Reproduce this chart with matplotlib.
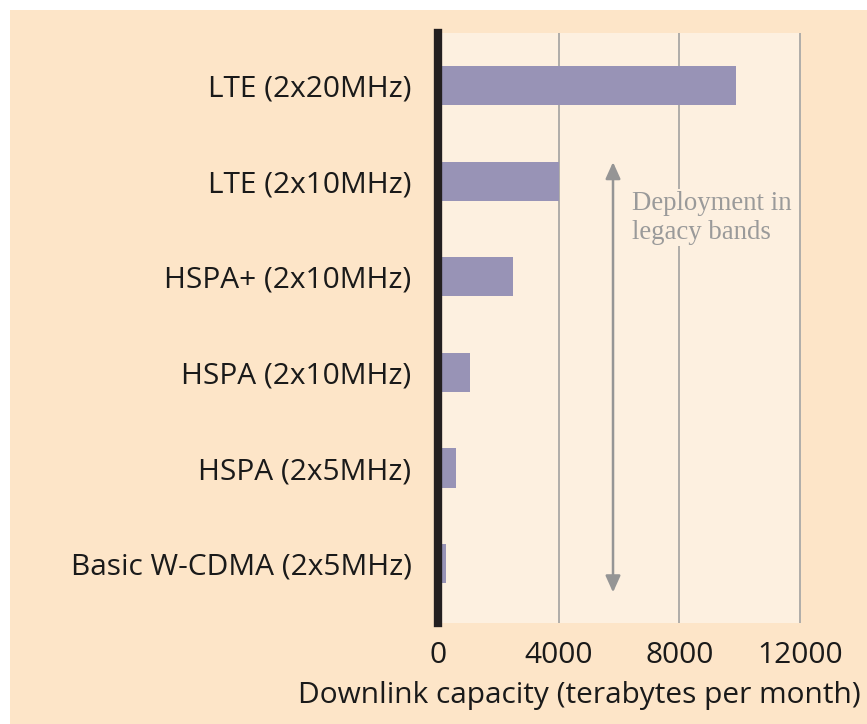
import matplotlib
matplotlib.use("Agg")
import matplotlib.pyplot as plt
from matplotlib.patches import Rectangle

# data (bottom to top)
labels = ["Basic W-CDMA (2x5MHz)", "HSPA (2x5MHz)", "HSPA (2x10MHz)",
          "HSPA+ (2x10MHz)", "LTE (2x10MHz)", "LTE (2x20MHz)"]
capacity = [250, 580, 1050, 2500, 4000, 9870]
xticks = [0, 4000, 8000, 12000]

outer_bg = "#fde5c8"
inner_bg = "#fdf0e0"
bar_color = "#9893b6"
grey = "#9a9a9a"

fig = plt.figure(figsize=(8.67, 7.24), dpi=100)
fig.patch.set_facecolor("white")
fig.patches.append(Rectangle((10 / 867, 0), 1, 1 - 10 / 724, transform=fig.transFigure,
                             facecolor=outer_bg, edgecolor="none", zorder=-10))

ax = fig.add_axes([438 / 867, 101 / 724, 363 / 867, 590 / 724])
ax.set_facecolor(inner_bg)

ypos = list(range(len(labels)))
ax.barh(ypos, capacity, height=0.41, color=bar_color, zorder=2)

ax.set_xlim(0, 12030)
ax.set_ylim(-0.62, 5.55)
ax.set_xticks(xticks)
ax.set_xticklabels([str(t) for t in xticks])
ax.set_yticks(ypos)
ax.set_yticklabels(labels)
ax.tick_params(axis="both", length=0, labelsize=21.5, colors="#1a1a1a")
ax.tick_params(axis="x", pad=13)
ax.tick_params(axis="y", pad=19)
for lab in ax.get_xticklabels() + ax.get_yticklabels():
    lab.set_family("Open Sans")

ax.grid(axis="x", color=grey, linewidth=1.1, zorder=1)
ax.set_axisbelow(True)
for s in ["top", "right", "bottom"]:
    ax.spines[s].set_visible(False)
ax.spines["left"].set_color("#231f20")
ax.spines["left"].set_linewidth(6)
ax.spines["left"].set_zorder(5)

ax.set_xlabel("Downlink capacity (terabytes per month)", family="Open Sans",
              fontsize=21.5, color="#1a1a1a", va="center")
ax.xaxis.set_label_coords((579 - 438) / 363, -72 / 590)

# double-headed arrow and note
ax.annotate("", xy=(5800, 4.2), xytext=(5800, -0.3),
            arrowprops=dict(arrowstyle="<|-|>,head_length=1.0,head_width=0.45",
                            color="#959595", lw=1.8, shrinkA=0, shrinkB=0), zorder=3)
ax.text(6440, 3.9, "Deployment in\nlegacy bands", family="Liberation Serif",
        fontsize=19.3, color=grey, va="top", ha="left", linespacing=1.2,
        bbox=dict(facecolor=inner_bg, edgecolor="none", pad=1), zorder=3)

fig.savefig("out.png", dpi=100)
